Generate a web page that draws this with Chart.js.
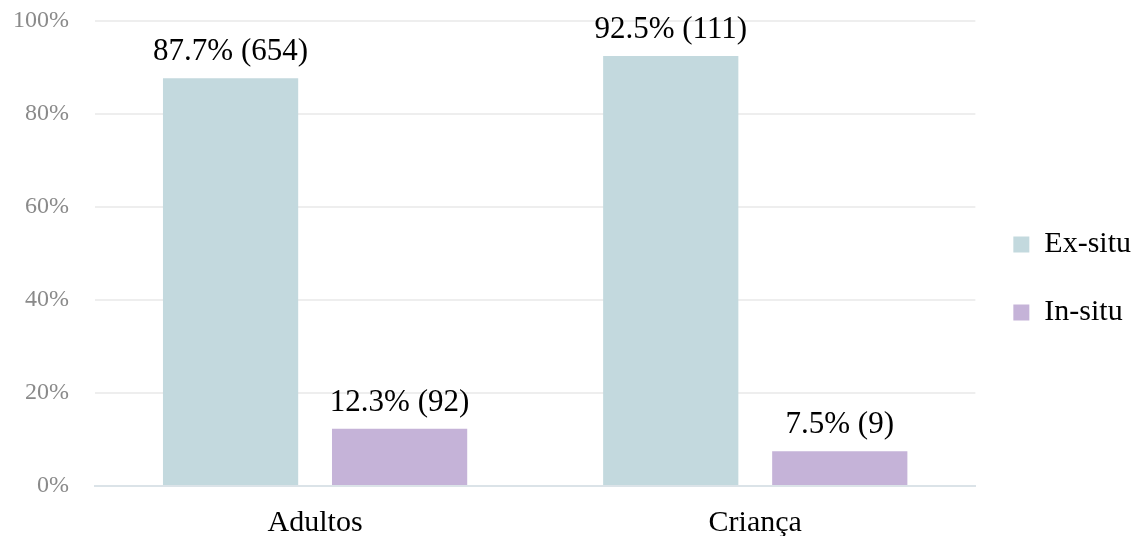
<!DOCTYPE html>
<html>
<head>
<meta charset="utf-8">
<script src="https://cdn.jsdelivr.net/npm/chart.js@4/dist/chart.umd.min.js"></script>
<style>
  html, body { margin: 0; padding: 0; background: #ffffff; }
  #wrap { width: 1138px; height: 542px; position: relative; }
</style>
</head>
<body>
<div id="wrap"><canvas id="chart"></canvas></div>
<script>
// categories and series
const categories = ['Adultos', 'Criança'];
const exSitu = [87.7, 92.5];
const inSitu = [12.3, 7.5];
const exSituCount = [654, 111];
const inSituCount = [92, 9];
const yTicks = [0, 20, 40, 60, 80, 100];

const serif = "'Liberation Serif', 'Times New Roman', serif";

// writes "xx.x% (n)" above each bar
const barLabels = {
    id: 'barLabels',
    afterDatasetsDraw(chart) {
        const ctx = chart.ctx;
        const counts = [exSituCount, inSituCount];
        ctx.save();
        ctx.font = '31px ' + serif;
        ctx.fillStyle = '#000000';
        ctx.textAlign = 'center';
        ctx.textBaseline = 'alphabetic';
        chart.data.datasets.forEach((ds, i) => {
            const meta = chart.getDatasetMeta(i);
            meta.data.forEach((bar, j) => {
                const text = ds.data[j].toFixed(1) + '% (' + counts[i][j] + ')';
                ctx.fillText(text, bar.x, bar.y - 18);
            });
        });
        ctx.restore();
    }
};

new Chart(document.getElementById('chart'), {
    type: 'bar',
    data: {
        labels: categories,
        datasets: [{
            label: 'Ex-situ',
            data: exSitu,
            backgroundColor: '#c3d9de'
        }, {
            label: 'In-situ',
            data: inSitu,
            backgroundColor: '#c5b3d8'
        }]
    },
    options: {
        responsive: true,
        maintainAspectRatio: false,
        animation: false,
        categoryPercentage: 0.768,
        barPercentage: 0.8,
        layout: { padding: { top: 21, right: -3, left: 0, bottom: 6 } },
        scales: {
            x: {
                grid: { display: false },
                border: { color: '#dbe3e8', width: 2 },
                ticks: { color: '#000000', font: { family: serif, size: 30 }, padding: 11 },
                afterFit(axis) { axis.height = 50; }
            },
            y: {
                min: 0,
                max: 100,
                afterBuildTicks(axis) {
                    axis.ticks = yTicks.map(v => ({ value: v }));
                },
                grid: { color: '#eeeeee', lineWidth: 2, drawTicks: false },
                border: { display: false },
                ticks: {
                    color: '#8a8a8a',
                    font: { family: serif, size: 24 },
                    padding: 26,
                    callback: v => v + '%'
                },
                afterFit(axis) {
                    axis.width = 95;
                    axis.paddingTop = 0;
                    axis.paddingBottom = 0;
                }
            }
        },
        plugins: {
            legend: {
                position: 'right',
                align: 'center',
                labels: {
                    color: '#000000',
                    font: { family: serif, size: 30 },
                    boxWidth: 16,
                    boxHeight: 16,
                    padding: 38
                }
            },
            tooltip: { enabled: false }
        }
    },
    plugins: [barLabels]
});
</script>
</body>
</html>
